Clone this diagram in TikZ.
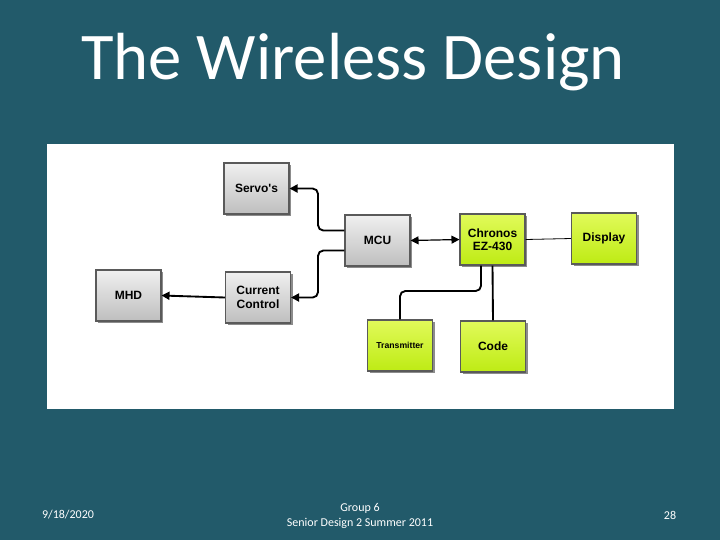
\documentclass[tikz,border=0pt]{standalone}
\usepackage{fontspec}
\setmainfont{Carlito}
\newfontfamily\boxfont{Liberation Sans}
\usetikzlibrary{shadows,arrows.meta}

\definecolor{slidebg}{RGB}{34,90,106}
\definecolor{boxline}{RGB}{90,90,90}
\definecolor{greytop}{RGB}{240,240,240}
\definecolor{greybot}{RGB}{190,190,190}
\definecolor{limetop}{RGB}{225,250,90}
\definecolor{limebot}{RGB}{190,235,20}

\tikzset{
  block/.style={draw=boxline, line width=0.8pt, minimum width=48.75pt, minimum height=38.25pt,
    inner sep=1pt, align=center, font=\boxfont\bfseries\fontsize{9}{10}\selectfont,
    drop shadow={shadow xshift=1.6pt, shadow yshift=-1.6pt, fill=black!45, opacity=1}},
  greyblock/.style={block, top color=greytop, bottom color=greybot},
  limeblock/.style={block, top color=limetop, bottom color=limebot},
  wire/.style={line width=1.4pt, rounded corners=4pt},
  tip/.style={-{Triangle[length=6pt,width=6pt]}},
  footer/.style={text=white, inner sep=0pt, font=\fontsize{9}{10}\selectfont}
}

\begin{document}
\begin{tikzpicture}[x=0.75pt,y=0.75pt,yscale=-1,xscale=1]
%set diagram to the slide size
\useasboundingbox (0,0) rectangle (720,540);

%Shape: slide background
\fill [slidebg] (0,0) rectangle (720,540);
%Shape: white panel
\fill [white] (47,144) rectangle (674,409);

% Title
\node (title) at (353,62) [text=white, font=\fontsize{50}{56}\selectfont] {The Wireless Design};

% Blocks
\node (servo) at (256.5,188.5) [greyblock] {Servo's};
\node (mcu) at (377.5,240.5) [greyblock] {MCU};
\node (mhd) at (128.5,295.5) [greyblock] {MHD};
\node (current) at (258,297.5) [greyblock] {Current\\Control};
\node (chronos) at (492.5,239.5) [limeblock] {Chronos\\EZ-430};
\node (display) at (604,238.5) [limeblock] {Display};
\node (transmitter) at (400,345.5) [limeblock, font=\boxfont\bfseries\fontsize{6.5}{8}\selectfont] {Transmitter};
\node (code) at (493,346.5) [limeblock] {Code};

% Bends
\coordinate (bus) at (318,0);
\coordinate (txbend) at (400,291);

% Connectors
\draw [wire, tip] ([yshift=-7.5pt]mcu.west) -| (bus |- servo.east) -- (servo.east);
\draw [wire, tip] ([yshift=7.5pt]mcu.west) -| (bus |- current.east) -- (current.east);
\draw [wire, tip] (current.west) -- (mhd.east);
\draw [line width=0.9pt, {Triangle[length=6pt,width=6pt]}-{Triangle[length=6pt,width=6pt]}] (mcu.east) -- (chronos.west);
\draw [line width=0.6pt] (chronos.east) -- (display.west);
\draw [wire] ([xshift=-8.6pt]chronos.south) |- (txbend) -- (transmitter.north);
\draw [wire] (chronos.south) -- (code.north);

% Footer
\node (date) at (68,515) [footer] {9/18/2020};
\node (group) at (360,508) [footer] {Group 6};
\node (course) at (360,523) [footer] {Senior Design 2 Summer 2011};
\node (page) at (670,515) [footer] {28};

\end{tikzpicture}
\end{document}
